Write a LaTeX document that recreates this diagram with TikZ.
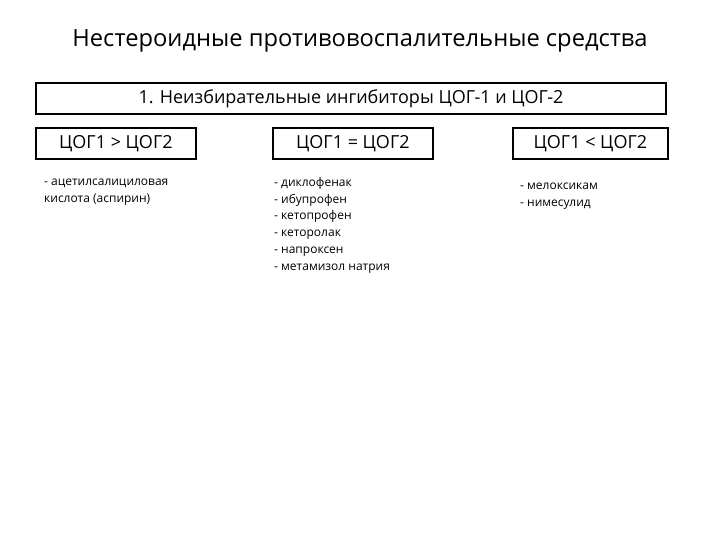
\documentclass[tikz,border=0pt]{standalone}
\usepackage{fontspec}
\setmainfont{Open Sans}
\begin{document}
\begin{tikzpicture}[x=1pt,y=-1pt,
  box/.style={draw,line width=1.8pt,inner sep=0pt,anchor=north west},
  hdr/.style={font=\fontsize{18}{21}\selectfont},
  lst/.style={font=\fontsize{12}{16.8}\selectfont,align=left,anchor=north west,inner sep=0pt}]
\useasboundingbox (0,0) rectangle (720,540);
\node (title) at (360,41) {\fontsize{23.7}{28}\selectfont Нестероидные противовоспалительные средства};
\node[box,minimum width=630pt,minimum height=31pt] (main) at (35,82) {};
\node[font=\fontsize{18}{21}\selectfont] (maint) at (main.center) {1. Неизбирательные ингибиторы ЦОГ-1 и ЦОГ-2};
\node[box,minimum width=160pt,minimum height=31pt] (b1) at (35,127) {};
\node[hdr] (b1t) at (b1.center) {ЦОГ1 > ЦОГ2};
\node[box,minimum width=160pt,minimum height=31pt] (b2) at (272,127) {};
\node[hdr] (b2t) at (b2.center) {ЦОГ1 = ЦОГ2};
\node[box,minimum width=155pt,minimum height=31pt] (b3) at (512,127) {};
\node[hdr] (b3t) at (b3.center) {ЦОГ1 < ЦОГ2};
\node[lst] (l1) at (44,179) {- ацетилсалициловая\\кислота (аспирин)};
\node[lst] (l2) at (274,177) {- диклофенак\\- ибупрофен\\- кетопрофен\\- кеторолак\\- напроксен\\- метамизол натрия};
\node[lst] (l3) at (520,183) {- мелоксикам\\- нимесулид};
\end{tikzpicture}
\end{document}
